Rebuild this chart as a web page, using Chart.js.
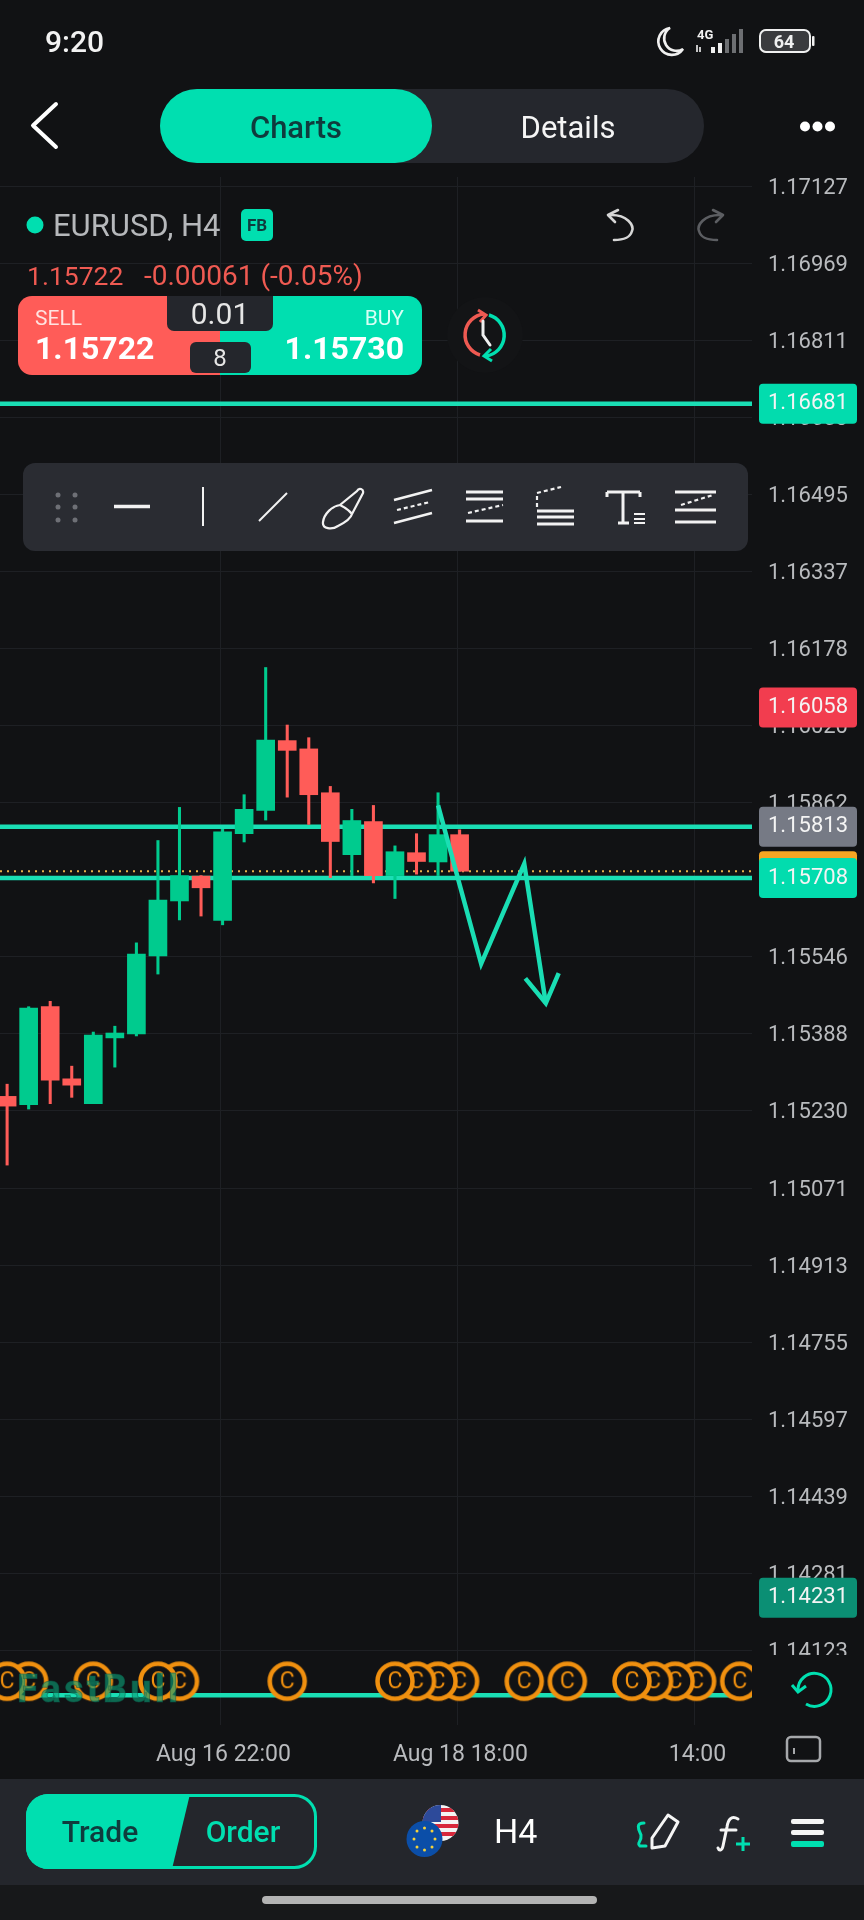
<!DOCTYPE html>
<html>
<head>
<meta charset="utf-8">
<title>EURUSD H4</title>
<script src="https://cdn.jsdelivr.net/npm/chart.js@4/dist/chart.umd.min.js"></script>
<style>
  html, body { margin: 0; padding: 0; background: #111214; }
  #stage { position: relative; width: 864px; height: 1920px; overflow: hidden; font-family: Roboto, sans-serif; }
  #chart { position: absolute; left: 0; top: 0; }
  #overlay { position: absolute; left: 0; top: 0; }
  #overlay text { font-family: Roboto, sans-serif; }
</style>
</head>
<body>
<div id="stage">
<canvas id="chart" width="864" height="1920"></canvas>
<svg id="overlay" width="864" height="1920" viewBox="0 0 864 1920">
  <!-- right column below the last price tick -->
  <rect x="752" y="1655" width="112" height="124" fill="#111214"/>

  <!-- status bar -->
  <text x="45" y="52" font-size="30" font-weight="500" fill="#f2f2f2">9:20</text>
  <path d="M670 28 a13.5 13.5 0 1 0 13 21 a12 12 0 0 1 -13 -21z" fill="none" stroke="#f0f0f0" stroke-width="2.6"/>
  <text x="697" y="39" font-size="13" font-weight="700" fill="#f0f0f0">4G</text>
  <path d="M697 45v7M700 47v5" stroke="#f0f0f0" stroke-width="1.6"/>
  <rect x="711" y="47" width="4" height="6" fill="#f0f0f0"/>
  <rect x="718" y="43" width="4" height="10" fill="#f0f0f0"/>
  <rect x="725" y="39" width="4" height="14" fill="#6d6f72"/>
  <rect x="732" y="34" width="4" height="19" fill="#6d6f72"/>
  <rect x="739" y="29" width="4" height="24" fill="#6d6f72"/>
  <rect x="760" y="30" width="50" height="22" rx="6" fill="#3a3b3e" stroke="#f0f0f0" stroke-width="2"/>
  <rect x="812" y="36" width="2.5" height="10" rx="1" fill="#f0f0f0"/>
  <text x="784" y="48" font-size="18" font-weight="700" fill="#f0f0f0" text-anchor="middle">64</text>

  <!-- header -->
  <path d="M56 104 L33 125.5 L56 147" fill="none" stroke="#fff" stroke-width="4" stroke-linecap="round" stroke-linejoin="round"/>
  <rect x="160" y="89" width="544" height="74" rx="37" fill="#25272d"/>
  <rect x="160" y="89" width="272" height="74" rx="37" fill="#00dfb0"/>
  <text x="296" y="138" font-size="31" font-weight="500" fill="#0f3b3d" text-anchor="middle">Charts</text>
  <text x="568" y="138" font-size="31" fill="#f5f5f5" text-anchor="middle">Details</text>
  <circle cx="805" cy="126.5" r="5" fill="#fff"/><circle cx="817.5" cy="126.5" r="5" fill="#fff"/><circle cx="830" cy="126.5" r="5" fill="#fff"/>

  <!-- symbol row -->
  <circle cx="35" cy="225" r="8.5" fill="#00dfb0"/>
  <text x="53" y="236" font-size="31" fill="#b6b8bb">EURUSD, H4</text>
  <rect x="241" y="209" width="32" height="32" rx="5" fill="#00dfb0"/>
  <text x="257" y="231" font-size="17" font-weight="700" fill="#0f3b3d" text-anchor="middle">FB</text>
  <path d="M618 210 L608 215 L615 222 M609 215 C628 214 634 226 632 231 C630 238 624 240 614 240" fill="none" stroke="#d6d6d6" stroke-width="2.6" stroke-linecap="round" stroke-linejoin="round"/>
  <path d="M713 210 L723 215 L716 222 M722 215 C703 214 697 226 699 231 C701 238 707 240 717 240" fill="none" stroke="#5c5e62" stroke-width="2.6" stroke-linecap="round" stroke-linejoin="round"/>

  <text x="27" y="285" font-size="26.5" fill="#ef5a52">1.15722</text>
  <text x="144" y="285" font-size="28" fill="#ef5a52">-0.00061 (-0.05%)</text>

  <!-- sell / buy -->
  <path d="M32 296 H220 V375 H32 a14 14 0 0 1 -14 -14 V310 a14 14 0 0 1 14 -14z" fill="#ff5c58"/>
  <path d="M220 296 H408 a14 14 0 0 1 14 14 V361 a14 14 0 0 1 -14 14 H220z" fill="#00dfb0"/>
  <text x="35" y="325" font-size="21" fill="#ffe3e0">SELL</text>
  <text x="404" y="325" font-size="21" fill="#d8fff5" text-anchor="end">BUY</text>
  <text x="35" y="359" font-size="32" font-weight="700" fill="#fff">1.15722</text>
  <text x="404" y="359" font-size="32" font-weight="700" fill="#fff" text-anchor="end">1.15730</text>
  <path d="M167 296 H273 V324 a7 7 0 0 1 -7 7 H174 a7 7 0 0 1 -7 -7z" fill="#24262c"/>
  <text x="220" y="324" font-size="30" fill="#e6e6e6" text-anchor="middle">0.01</text>
  <rect x="190" y="342" width="61" height="31" rx="6" fill="#24262c"/>
  <text x="220" y="366" font-size="24" fill="#e6e6e6" text-anchor="middle">8</text>

  <!-- clock button -->
  <circle cx="485" cy="335" r="38" fill="#131416"/>
  <path d="M484 314 A21 21 0 0 0 480 355" fill="none" stroke="#ef5a52" stroke-width="3.5"/>
  <path d="M478 310 L486 315 L480 322" fill="none" stroke="#ef5a52" stroke-width="3"/>
  <path d="M489 315 A21 21 0 0 1 486 356" fill="none" stroke="#00dfb0" stroke-width="3.5"/>
  <path d="M491 349 L484 356 L492 361" fill="none" stroke="#00dfb0" stroke-width="3"/>
  <path d="M483 321 V335 L490 345" fill="none" stroke="#f0f0f0" stroke-width="3" stroke-linecap="round"/>

  <!-- drawing toolbar -->
  <rect x="23" y="463" width="725" height="88" rx="12" fill="#2a2c32"/>
  <g fill="#6e7076">
    <circle cx="58" cy="495" r="2.5"/><circle cx="75" cy="495" r="2.5"/>
    <circle cx="58" cy="507" r="2.5"/><circle cx="75" cy="507" r="2.5"/>
    <circle cx="58" cy="520" r="2.5"/><circle cx="75" cy="520" r="2.5"/>
  </g>
  <g fill="none" stroke="#f2f2f2" stroke-width="2.2">
    <path d="M114 506.5 H150" stroke-width="3.5"/>
    <path d="M203 487 V526" stroke-width="2"/>
    <path d="M259 521 L287 493" stroke-width="2"/>
    <path d="M357 491 C359 487 364 489 363 493 L352 514 C349 510 344 507 340 505z M340 505 C332 506 324 514 323 522 C322 529 332 530 338 526 C346 522 351 518 352 514"/>
    <path d="M394 500 L432 490 M394 523 L432 513" stroke-width="2.6"/>
    <path d="M397 510 L430 502" stroke-dasharray="4 3"/>
    <path d="M466 492 H503 M466 499 H503 M466 521 H503" stroke-width="3"/>
    <path d="M468 513 L503 505" stroke-dasharray="4 3"/>
    <path d="M537 507 V493 L561 487" stroke-dasharray="4 3"/>
    <path d="M537 511 H574 M537 517 H574 M537 524 H574" stroke-width="3"/>
    <path d="M607 492 H640 M607 492 V497 M640 492 V497 M623 492 V522 M618 523 H629" stroke-width="3"/>
    <path d="M634 514 H645 M634 519 H645 M634 523 H645"/>
    <path d="M675 492 H716 M675 510 H716 M675 522 H716" stroke-width="3"/>
    <path d="M681 505 L713 495" stroke-dasharray="4 3"/>
  </g>

  <!-- reset and layout buttons on the right -->
  <path d="M798 1690 A16.5 16.5 0 1 1 806 1704" fill="none" stroke="#00dfb0" stroke-width="3"/>
  <path d="M792 1685 L798 1692 L806 1686" fill="none" stroke="#00dfb0" stroke-width="3"/>
  <rect x="787" y="1737" width="33" height="24" rx="4" fill="none" stroke="#a6a8ab" stroke-width="2.5"/>
  <path d="M794 1748 V1754" stroke="#a6a8ab" stroke-width="2"/>

  <!-- watermark -->
  <text x="17" y="1702" font-size="38" font-weight="700" letter-spacing="3.2" fill="#0c9f78" fill-opacity="0.62" stroke="#0a5a48" stroke-opacity="0.5" stroke-width="1">FastBull</text>

  <!-- bottom bar -->
  <rect x="0" y="1779" width="864" height="106" fill="#24262c"/>
  <rect x="0" y="1885" width="864" height="35" fill="#17181a"/>
  <rect x="262" y="1896" width="335" height="8" rx="4" fill="#b3b3b3"/>
  <rect x="27.5" y="1795.5" width="288" height="72" rx="21" fill="none" stroke="#00dfb0" stroke-width="3"/>
  <path d="M48 1794 H190 L172 1869 H48 a22 22 0 0 1 -22 -22 V1816 a22 22 0 0 1 22 -22z" fill="#00dfb0"/>
  <text x="100" y="1842" font-size="30" font-weight="500" fill="#0f3b3d" text-anchor="middle">Trade</text>
  <text x="243" y="1842" font-size="30" font-weight="500" fill="#00dfb0" text-anchor="middle">Order</text>

  <clipPath id="usClip"><circle cx="440.5" cy="1823" r="18"/></clipPath>
  <g clip-path="url(#usClip)">
    <rect x="420" y="1803" width="42" height="40" fill="#f4f4f4"/>
    <path d="M420 1810h42M420 1818h42M420 1826h42M420 1834h42" stroke="#d8283c" stroke-width="4"/>
    <rect x="420" y="1803" width="21" height="19" fill="#2d4a9a"/>
  </g>
  <circle cx="424.5" cy="1839" r="18" fill="#0b4ea8"/>
  <g fill="#f5d33c">
    <circle cx="424.5" cy="1828" r="1.5"/><circle cx="432" cy="1831" r="1.5"/><circle cx="435" cy="1839" r="1.5"/>
    <circle cx="432" cy="1847" r="1.5"/><circle cx="424.5" cy="1850" r="1.5"/><circle cx="417" cy="1847" r="1.5"/>
    <circle cx="414" cy="1839" r="1.5"/><circle cx="417" cy="1831" r="1.5"/>
  </g>
  <text x="494" y="1843" font-size="34" fill="#fff">H4</text>

  <path d="M668 1815 L678 1822 L665 1846 L652 1848 L652 1838z" fill="none" stroke="#f5f5f5" stroke-width="3" stroke-linejoin="round"/>
  <path d="M644 1823 C634 1823 640 1832 641 1835 C642 1842 636 1843 640 1846 L646 1846" fill="none" stroke="#00dfb0" stroke-width="3" stroke-linecap="round"/>
  <path d="M738 1819 C731 1815 728 1820 727 1827 L723 1846 C722 1851 719 1851 718 1848 M721 1830 H736" fill="none" stroke="#f5f5f5" stroke-width="3" stroke-linecap="round"/>
  <path d="M743 1837 V1851 M736 1844 H750" stroke="#00dfb0" stroke-width="3"/>
  <rect x="791" y="1819" width="33" height="5" rx="2" fill="#f5f5f5"/>
  <rect x="791" y="1830" width="33" height="5" rx="2" fill="#f5f5f5"/>
  <rect x="791" y="1841" width="33" height="6" rx="2" fill="#00dfb0"/>
</svg>
</div>

<script>
// candles, oldest first
const opens  = [1.15260, 1.15243, 1.15444, 1.15296, 1.15245, 1.15380, 1.15388, 1.15548, 1.15661, 1.15712, 1.15621, 1.15799, 1.15847, 1.15990, 1.15973, 1.15883, 1.15756, 1.15824, 1.15713, 1.15760, 1.15741, 1.15797];
const highs  = [1.15285, 1.15444, 1.15455, 1.15322, 1.15392, 1.15404, 1.15575, 1.15785, 1.15853, 1.15713, 1.15808, 1.15879, 1.16140, 1.16022, 1.15996, 1.15896, 1.15849, 1.15857, 1.15774, 1.15799, 1.15883, 1.15807];
const lows   = [1.15119, 1.15234, 1.15245, 1.15258, 1.15245, 1.15320, 1.15384, 1.15511, 1.15622, 1.15630, 1.15612, 1.15782, 1.15827, 1.15874, 1.15818, 1.15709, 1.15713, 1.15698, 1.15666, 1.15716, 1.15713, 1.15722];
const closes = [1.15240, 1.15441, 1.15293, 1.15283, 1.15386, 1.15390, 1.15552, 1.15663, 1.15713, 1.15688, 1.15803, 1.15849, 1.15991, 1.15970, 1.15879, 1.15783, 1.15826, 1.15713, 1.15762, 1.15742, 1.15797, 1.15722];

// axes
const priceTicks = [1.17127, 1.16969, 1.16811, 1.16653, 1.16495, 1.16337, 1.16178, 1.16020, 1.15862, 1.15704, 1.15546, 1.15388, 1.15230, 1.15071, 1.14913, 1.14755, 1.14597, 1.14439, 1.14281, 1.14123];
const timeTicks  = [9.9, 20.9, 31.9];
const timeLabels = ['Aug 16 22:00', 'Aug 18 18:00', '14:00'];

// horizontal lines drawn by the user, and the current price
const levels = [1.16681, 1.15813, 1.15708, 1.14031];
const lastPrice = 1.15722;

// hand drawn path and arrow head (candle position, price)
const pathX = [20, 22, 24, 25];
const pathY = [1.15857, 1.15532, 1.15737, 1.15451];
const headX = [24.05, 25, 25.6];
const headY = [1.15502, 1.15451, 1.15513];

// economic calendar markers, candle positions
const eventSlots = [0, 1, 4, 7, 8, 13, 18, 19, 20, 21, 24, 26, 29, 30, 31, 32, 34];
const eventPrice = 1.14060;

// price tags on the axis, drawn bottom to top
const tagValues = [1.16681, 1.14231, 1.16058, 1.15813, 1.15722, 1.15708];
const tagColors = ['#02dcae', '#0b8f74', '#f23d4f', '#767a85', '#f6a623', '#02dcae'];

const GREEN = '#00cb8e';
const RED = '#ff5c58';
const LINE = '#1adeb4';
const X_MIN = -0.33;
const X_MAX = 34.57;

const candleColors = opens.map((o, i) => closes[i] >= o ? GREEN : RED);

function levelData(v) {
    return [{ x: X_MIN, y: v }, { x: X_MAX, y: v }];
}

function eventMarker() {
    const c = document.createElement('canvas');
    c.width = 44;
    c.height = 44;
    const g = c.getContext('2d');
    g.beginPath();
    g.arc(22, 22, 17.5, 0, Math.PI * 2);
    g.fillStyle = '#111214';
    g.fill();
    g.lineWidth = 4.5;
    g.strokeStyle = '#f0900f';
    g.stroke();
    g.fillStyle = '#f0900f';
    g.font = '23px Roboto';
    g.textAlign = 'center';
    g.textBaseline = 'middle';
    g.fillText('C', 22, 23);
    return c;
}

// draws the boxes on the price axis
const priceTags = {
    id: 'priceTags',
    afterDatasetsDraw(chart) {
        const g = chart.ctx;
        const y = chart.scales.y;
        g.save();
        g.font = '22px Roboto';
        g.textAlign = 'center';
        g.textBaseline = 'middle';
        tagValues.forEach((v, i) => {
            const py = y.getPixelForValue(v);
            g.fillStyle = tagColors[i];
            g.beginPath();
            g.roundRect(759, py - 20, 98, 40, 4);
            g.fill();
            g.fillStyle = '#f4f4f4';
            g.fillText(v.toFixed(5), 808, py);
        });
        g.restore();
    }
};

new Chart(document.getElementById('chart'), {
    type: 'bar',
    data: {
        datasets: [
            {
                type: 'line',
                label: 'events',
                data: eventSlots.slice().reverse().map(s => ({ x: s, y: eventPrice })),
                showLine: false,
                pointStyle: eventMarker(),
                pointRadius: 20,
                order: 1
            },
            {
                type: 'line',
                label: 'path',
                data: pathX.map((x, i) => ({ x: x, y: pathY[i] })),
                borderColor: LINE,
                borderWidth: 4.5,
                pointRadius: 0,
                tension: 0,
                order: 2
            },
            {
                type: 'line',
                label: 'arrow',
                data: headX.map((x, i) => ({ x: x, y: headY[i] })),
                borderColor: LINE,
                borderWidth: 4.5,
                pointRadius: 0,
                tension: 0,
                order: 2
            },
            {
                type: 'bar',
                label: 'body',
                data: opens.map((o, i) => ({ x: i, y: [o, closes[i]] })),
                backgroundColor: candleColors,
                barThickness: 18,
                grouped: false,
                order: 3
            },
            {
                type: 'bar',
                label: 'wick',
                data: lows.map((l, i) => ({ x: i, y: [l, highs[i]] })),
                backgroundColor: candleColors,
                barThickness: 2.4,
                grouped: false,
                order: 4
            },
            ...levels.map(v => ({
                type: 'line',
                label: 'level',
                data: levelData(v),
                borderColor: LINE,
                borderWidth: 4.5,
                pointRadius: 0,
                order: 5
            })),
            {
                type: 'line',
                label: 'last',
                data: levelData(lastPrice),
                borderColor: '#e8b04a',
                borderWidth: 2,
                borderDash: [2, 5],
                pointRadius: 0,
                order: 4.5
            }
        ]
    },
    options: {
        responsive: false,
        animation: false,
        events: [],
        layout: { autoPadding: false, padding: { top: 177, left: 0, right: 0, bottom: 141 } },
        plugins: { legend: { display: false }, tooltip: { enabled: false } },
        scales: {
            x: {
                type: 'linear',
                offset: false,
                min: X_MIN,
                max: X_MAX,
                afterBuildTicks: axis => { axis.ticks = timeTicks.map(v => ({ value: v })); },
                afterFit: axis => { axis.height = 54; axis.paddingLeft = 0; axis.paddingRight = 0; },
                grid: { color: '#1e2024', lineWidth: 1, drawTicks: false, offset: false },
                border: { display: false },
                ticks: {
                    color: '#b9bbbe',
                    font: { family: 'Roboto', size: 23 },
                    padding: 16,
                    maxRotation: 0,
                    autoSkip: false,
                    labelOffset: 3,
                    callback: (v, i) => timeLabels[i]
                }
            },
            y: {
                type: 'linear',
                position: 'right',
                min: 1.139701,
                max: 1.171465,
                afterBuildTicks: axis => { axis.ticks = priceTicks.map(v => ({ value: v })); },
                afterFit: axis => { axis.width = 112; },
                grid: { color: '#1e2024', lineWidth: 1, drawTicks: false },
                border: { display: false },
                ticks: {
                    color: '#b9bbbe',
                    font: { family: 'Roboto', size: 22 },
                    padding: 16,
                    labelOffset: 2,
                    autoSkip: false,
                    callback: v => v.toFixed(5)
                }
            }
        }
    },
    plugins: [priceTags]
});
</script>
</body>
</html>
